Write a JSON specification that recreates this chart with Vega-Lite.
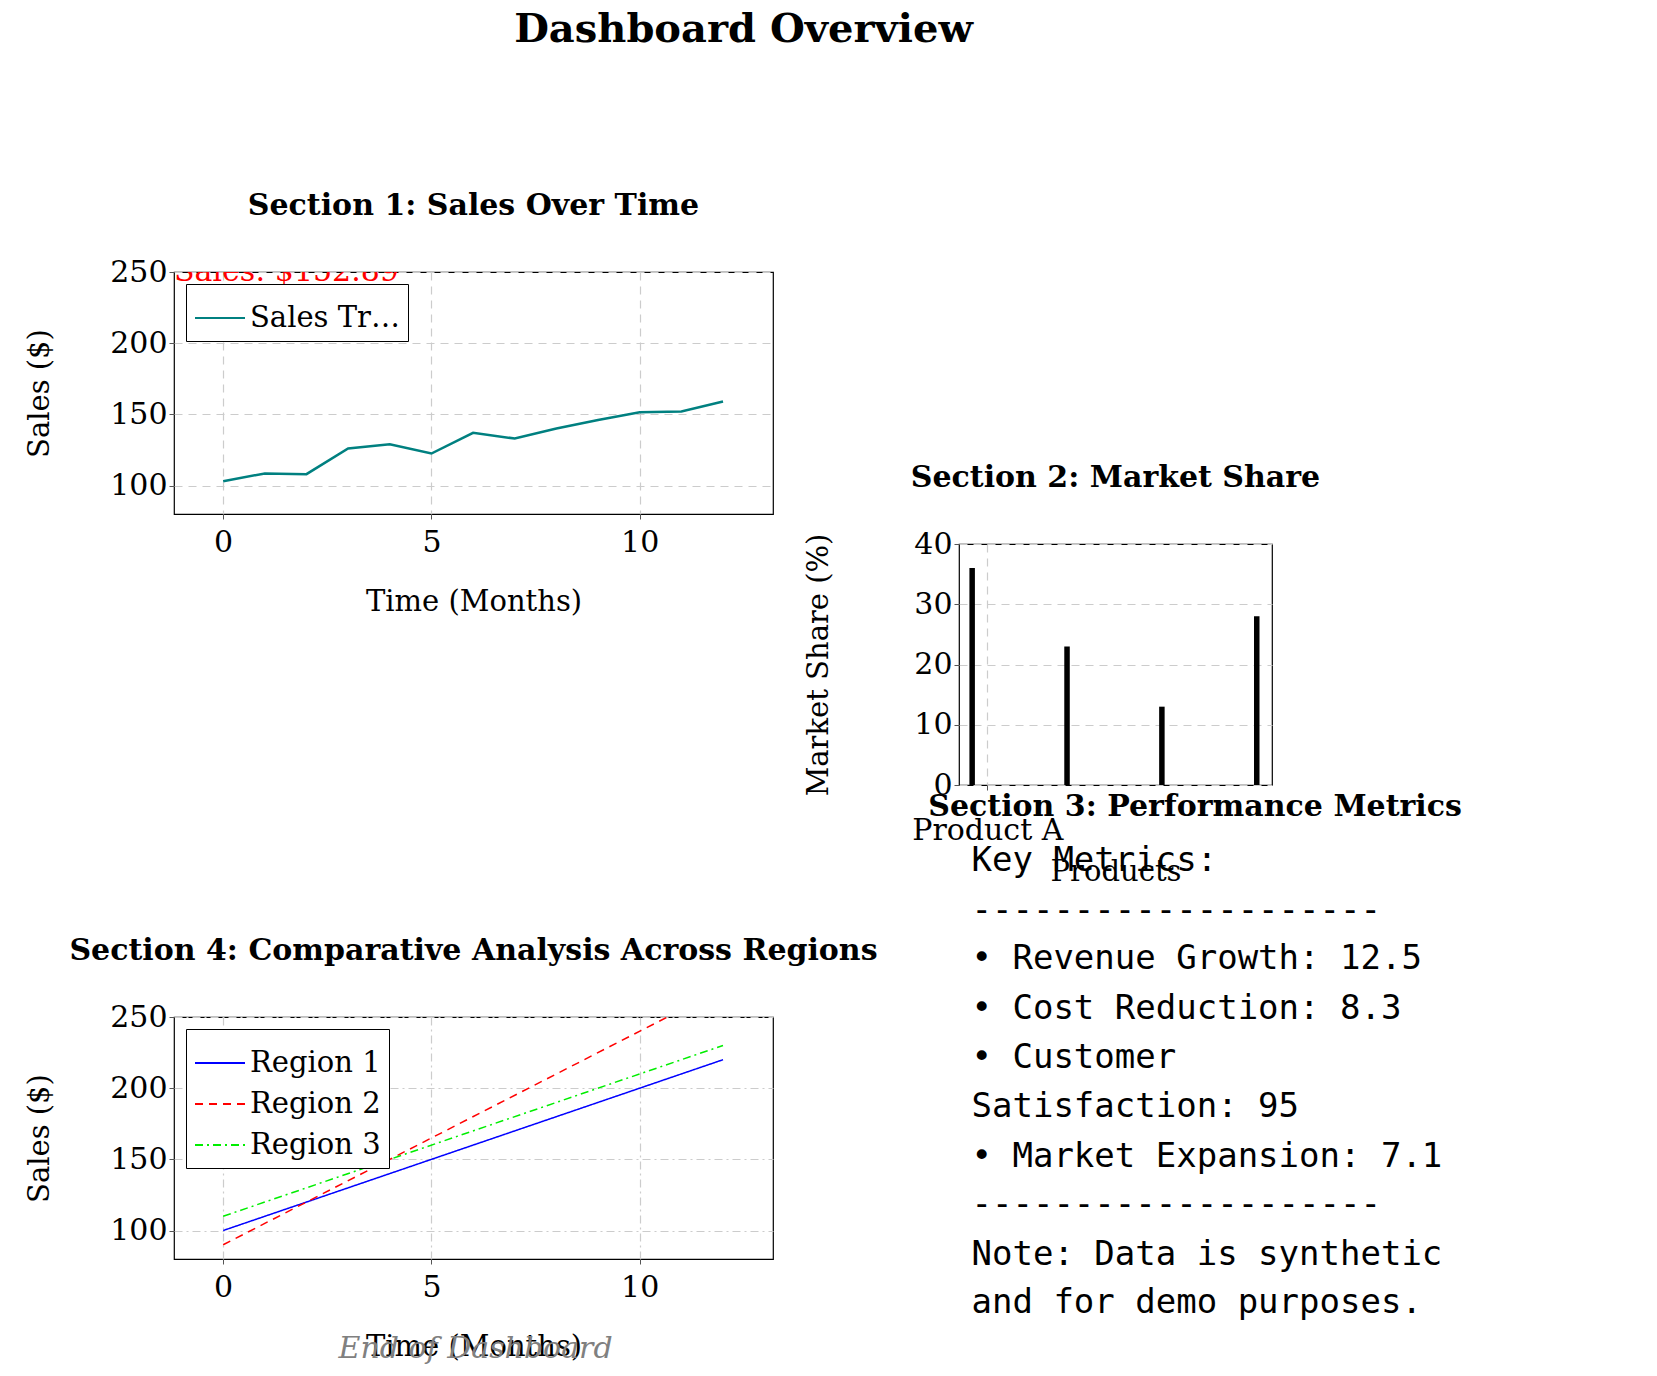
{
  "$schema": "https://vega.github.io/schema/vega-lite/v6.json",
  "background": "white",
  "padding": {"left": 25, "top": 10, "right": 5, "bottom": 5},
  "title": {"text": "Dashboard Overview", "fontSize": 40, "font": "DejaVu Serif", "fontWeight": "bold", "anchor": "middle", "offset": 140},
  "resolve": {"scale": {"color": "independent", "strokeDash": "independent"}, "legend": {"color": "independent", "strokeDash": "independent"}},
  "config": {
    "font": "DejaVu Serif",
    "view": {"stroke": "black", "strokeWidth": 1.2},
    "axis": {"labelFont": "DejaVu Serif", "titleFont": "DejaVu Serif", "labelFontSize": 30, "titleFontSize": 29, "titleFontWeight": "normal", "labelColor": "black", "titleColor": "black", "domain": false, "tickColor": "#555", "gridColor": "#cccccc", "gridDash": [8, 6], "gridWidth": 1.2},
    "title": {"font": "DejaVu Serif", "fontSize": 30, "fontWeight": "bold", "offset": 36},
    "legend": {"labelFont": "DejaVu Serif", "labelFontSize": 29, "strokeColor": "black", "fillColor": "white", "padding": 8, "symbolStrokeWidth": 2, "symbolSize": 2500, "title": null, "labelColor": "black", "rowPadding": 0}
  },
  "spacing": -75,
  "hconcat": [
    {
      "spacing": 318,
      "resolve": {"scale": {"color": "independent", "strokeDash": "independent"}, "legend": {"color": "independent", "strokeDash": "independent"}},
      "vconcat": [
        {
          "title": "Section 1: Sales Over Time",
          "width": 599,
          "height": 242,
          "layer": [
            {
              "data": {"values": [
                {"month": 0, "sales": 103, "series": "Sales Trend"},
                {"month": 1, "sales": 108.5, "series": "Sales Trend"},
                {"month": 2, "sales": 108, "series": "Sales Trend"},
                {"month": 3, "sales": 126, "series": "Sales Trend"},
                {"month": 4, "sales": 129, "series": "Sales Trend"},
                {"month": 5, "sales": 122.5, "series": "Sales Trend"},
                {"month": 6, "sales": 137, "series": "Sales Trend"},
                {"month": 7, "sales": 133, "series": "Sales Trend"},
                {"month": 8, "sales": 140, "series": "Sales Trend"},
                {"month": 9, "sales": 146, "series": "Sales Trend"},
                {"month": 10, "sales": 151.5, "series": "Sales Trend"},
                {"month": 11, "sales": 152, "series": "Sales Trend"},
                {"month": 12, "sales": 159, "series": "Sales Trend"}
              ]},
              "mark": {"type": "line", "strokeWidth": 2.5, "clip": true},
              "encoding": {
                "x": {"field": "month", "type": "quantitative", "scale": {"domain": [-1.18, 13.2], "nice": false}, "axis": {"values": [0, 5, 10], "title": "Time (Months)", "titlePadding": 30, "labelPadding": 8}},
                "y": {"field": "sales", "type": "quantitative", "scale": {"domain": [80, 250], "nice": false}, "axis": {"values": [100, 150, 200, 250], "title": "Sales ($)", "titlePadding": 55}},
                "color": {"field": "series", "type": "nominal", "scale": {"range": ["#008080"]}, "legend": {"orient": "top-left", "offset": 12, "symbolType": "stroke"}}
              }
            },
            {
              "data": {"values": [{"month": -1.18, "sales": 250, "label": "Sales: $152.89"}]},
              "mark": {"type": "text", "color": "red", "fontSize": 30, "align": "left", "baseline": "middle", "clip": true},
              "encoding": {
                "x": {"field": "month", "type": "quantitative"},
                "y": {"field": "sales", "type": "quantitative"},
                "text": {"field": "label"}
              }
            }
          ]
        },
        {
          "title": "Section 4: Comparative Analysis Across Regions",
          "width": 599,
          "height": 242,
          "layer": [
            {
              "data": {"values": [
                {"month": 0, "sales": 100, "region": "Region 1"},
                {"month": 12, "sales": 220, "region": "Region 1"},
                {"month": 0, "sales": 90, "region": "Region 2"},
                {"month": 12, "sales": 270, "region": "Region 2"},
                {"month": 0, "sales": 110, "region": "Region 3"},
                {"month": 12, "sales": 230, "region": "Region 3"}
              ]},
              "mark": {"type": "line", "strokeWidth": 1.5, "clip": true},
              "encoding": {
                "x": {"field": "month", "type": "quantitative", "scale": {"domain": [-1.18, 13.2], "nice": false}, "axis": {"values": [0, 5, 10], "title": "Time (Months)", "titlePadding": 30, "labelPadding": 8, "gridDash": [8, 4, 2, 4]}},
                "y": {"field": "sales", "type": "quantitative", "scale": {"domain": [80, 250], "nice": false}, "axis": {"values": [100, 150, 200, 250], "title": "Sales ($)", "titlePadding": 55, "gridDash": [8, 4, 2, 4]}},
                "color": {"field": "region", "type": "nominal", "scale": {"range": ["blue", "red", "#00ee00"]}, "legend": {"orient": "top-left", "offset": 12, "symbolType": "stroke"}},
                "strokeDash": {"field": "region", "type": "nominal", "scale": {"range": [[1, 0], [8, 6], [8, 4, 2, 4]]}, "legend": null}
              }
            },
            {
              "data": {"values": [{"month": 6.06, "sales": 17, "label": "End of Dashboard"}]},
              "mark": {"type": "text", "color": "gray", "fontSize": 30, "fontStyle": "italic", "baseline": "middle", "clip": false},
              "encoding": {
                "x": {"field": "month", "type": "quantitative"},
                "y": {"field": "sales", "type": "quantitative"},
                "text": {"field": "label"}
              }
            }
          ]
        }
      ]
    },
    {
      "bounds": "flush",
      "spacing": -54,
      "vconcat": [
        {
          "width": 313,
          "height": 272,
          "view": {"stroke": null},
          "data": {"values": [{"t": ""}]},
          "mark": {"type": "text"},
          "encoding": {"text": {"field": "t"}}
        },
        {
          "title": "Section 2: Market Share",
          "width": 313,
          "height": 241,
          "data": {"values": [
            {"pos": 0, "share": 36, "product": "Product A"},
            {"pos": 1, "share": 23, "product": "Product B"},
            {"pos": 2, "share": 13, "product": "Product C"},
            {"pos": 3, "share": 28, "product": "Product D"}
          ]},
          "mark": {"type": "bar", "width": 5.5, "color": "black"},
          "encoding": {
            "x": {"field": "pos", "type": "quantitative", "scale": {"domain": [-0.086, 3.108], "nice": false}, "axis": {"values": [0.16], "labelExpr": "'Product A'", "title": "Products", "labelPadding": 25, "titlePadding": 12}},
            "y": {"field": "share", "type": "quantitative", "scale": {"domain": [0, 40], "nice": false}, "axis": {"values": [0, 10, 20, 30, 40], "title": "Market Share (%)", "titlePadding": 80}}
          }
        },
        {
          "width": 313,
          "height": 545,
          "view": {"stroke": null},
          "layer": [
            {
              "data": {"values": [{"pos": 22, "label": "Section 3: Performance Metrics"}]},
              "mark": {"type": "text", "font": "DejaVu Serif", "fontWeight": "bold", "fontSize": 30, "align": "center", "baseline": "middle"},
              "encoding": {
                "x": {"datum": 264, "type": "quantitative", "scale": {"domain": [0, 313]}, "axis": null},
                "y": {"field": "pos", "type": "quantitative", "scale": {"domain": [0, 545], "reverse": true}, "axis": null},
                "text": {"field": "label"}
              }
            },
            {
              "data": {"values": [
                {"pos": 77, "label": "Key Metrics:"},
                {"pos": 127, "label": "--------------------"},
                {"pos": 176, "label": "• Revenue Growth: 12.5"},
                {"pos": 226, "label": "• Cost Reduction: 8.3"},
                {"pos": 275, "label": "• Customer"},
                {"pos": 325, "label": "Satisfaction: 95"},
                {"pos": 375, "label": "• Market Expansion: 7.1"},
                {"pos": 424, "label": "--------------------"},
                {"pos": 474, "label": "Note: Data is synthetic"},
                {"pos": 523, "label": "and for demo purposes."}
              ]},
              "mark": {"type": "text", "font": "DejaVu Sans Mono", "fontSize": 34, "align": "left", "baseline": "middle"},
              "encoding": {
                "x": {"datum": 14, "type": "quantitative"},
                "y": {"field": "pos", "type": "quantitative"},
                "text": {"field": "label"}
              }
            }
          ]
        }
      ]
    }
  ]
}
